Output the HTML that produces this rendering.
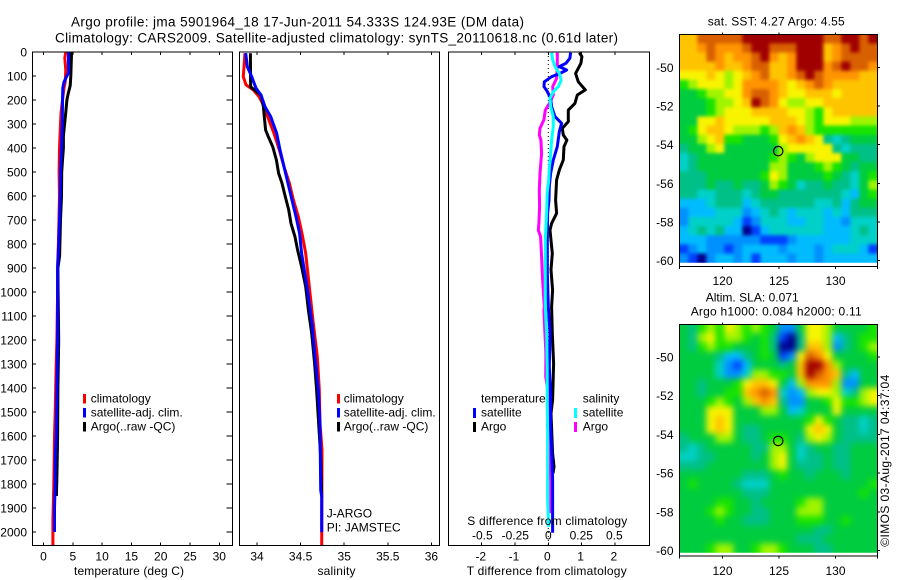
<!DOCTYPE html>
<html lang="en">
<head>
<meta charset="utf-8">
<title>Argo profile 5901964_18</title>
<style>
html,body{margin:0;padding:0;background:#fff;}
svg{display:block;font-family:"Liberation Sans",sans-serif;font-size:12px;fill:#000;}
text{fill:#000;}
</style>
</head>
<body>
<svg id="chart" xmlns="http://www.w3.org/2000/svg" width="900" height="580" viewBox="0 0 900 580">
<defs>
<clipPath id="sstClip"><rect x="679.3" y="34.3" width="198" height="228.4"/></clipPath>
<clipPath id="slaClip"><rect x="679.3" y="324.3" width="198" height="228.4"/></clipPath>
<filter id="blurSst" color-interpolation-filters="sRGB" x="-5%" y="-5%" width="110%" height="110%"><feGaussianBlur stdDeviation="1.9"/></filter>
<filter id="blurSla" color-interpolation-filters="sRGB" x="-5%" y="-5%" width="110%" height="110%"><feGaussianBlur stdDeviation="3.2"/></filter>
</defs>
<rect x="0" y="0" width="900" height="580" fill="#fff"/>
<text x="71" y="26.5" font-size="13.5" textLength="453">Argo profile: jma 5901964_18 17-Jun-2011 54.333S 124.93E (DM data)</text>
<text x="55" y="42.5" font-size="13.5" textLength="563">Climatology: CARS2009. Satellite-adjusted climatology: synTS_20110618.nc (0.61d later)</text>

<g id="panelT"></g>
<g id="panelS"></g>
<g id="panelD"></g>
<g id="mapSst"></g>
<g id="mapSla"></g>

<text x="74" y="575" textLength="110">temperature (deg C)</text>
<text x="317.5" y="575" textLength="38">salinity</text>
<text x="466.7" y="575" textLength="160">T difference from climatology</text>
<text x="467.3" y="525" textLength="160">S difference from climatology</text>

<g>
<rect x="83" y="394" width="3" height="9.5" fill="#f00"/>
<text x="90.7" y="402.7">climatology</text>
<rect x="83" y="408" width="3" height="9.5" fill="#00f"/>
<text x="90.7" y="416.7">satellite-adj. clim.</text>
<rect x="83" y="422" width="3" height="9.5" fill="#000"/>
<text x="90.7" y="430.7">Argo(..raw -QC)</text>
</g>
<g>
<rect x="337" y="394" width="3" height="9.5" fill="#f00"/>
<text x="343.7" y="402.7">climatology</text>
<rect x="337" y="408" width="3" height="9.5" fill="#00f"/>
<text x="343.7" y="416.7">satellite-adj. clim.</text>
<rect x="337" y="422" width="3" height="9.5" fill="#000"/>
<text x="343.7" y="430.7">Argo(..raw -QC)</text>
</g>
<text x="326.7" y="517.3">J-ARGO</text>
<text x="326.7" y="531.7">PI: JAMSTEC</text>

<g>
<text x="481" y="402.7">temperature</text>
<rect x="473" y="408" width="3" height="10" fill="#00f"/>
<text x="481" y="416.7">satellite</text>
<rect x="473" y="422" width="3" height="10" fill="#000"/>
<text x="481" y="430.7">Argo</text>
<text x="582.7" y="402.7">salinity</text>
<rect x="574" y="408" width="3" height="10" fill="#0ff"/>
<text x="582.7" y="416.7">satellite</text>
<rect x="574" y="422" width="3" height="10" fill="#f0f"/>
<text x="582.7" y="430.7">Argo</text>
</g>

<text x="707.7" y="25.6" textLength="137">sat. SST: 4.27 Argo: 4.55</text>
<text x="705.7" y="301.7" textLength="93">Altim. SLA: 0.071</text>
<text x="690.7" y="315.7" textLength="171">Argo h1000: 0.084 h2000: 0.11</text>
<text transform="translate(889,546.7) rotate(-90)" textLength="172">©IMOS 03-Aug-2017 04:37:04</text>
</svg>

<script>
var depthTicks = [0,100,200,300,400,500,600,700,800,900,1000,1100,1200,1300,1400,1500,1600,1700,1800,1900,2000];
var tempTicks = [0,5,10,15,20,25,30];
var salTicks = ['34','34.5','35','35.5','36'];
var tDiffTicks = ['-2','-1','0','1','2'];
var sDiffTicks = ['-0.5','-0.25','0','0.25','0.5'];
var lonTicks = [120,125,130];
var latTicks = [-50,-52,-54,-56,-58,-60];
var floatLon = 124.93;
var floatLat = -54.333;

var tempClimDepth = [0,25,75,125,150,200,250,300,400,500,600,800,900,1000,1200,1300,1500,1600,1800,1950,2055];
var tempClimValue = [3.8,3.64,3.8,3.7,3.5,3.25,3.0,2.9,2.73,2.67,2.73,2.55,2.4,2.4,2.28,2.16,2.0,1.88,1.76,1.6,1.6];
var tempArgoDepth = [0,100,140,175,200,250,300,350,400,450,500,600,700,800,850,900,1000,1200,1400,1600,1750,1850];
var tempArgoValue = [4.8,4.66,4.55,4.2,4.0,3.8,3.6,3.4,3.4,3.25,3.1,3.07,2.9,2.8,2.75,2.45,2.5,2.6,2.45,2.4,2.3,2.2];
var tempSatDepth = [0,50,85,100,125,150,200,300,360,400,500,600,700,800,900,1000,1200,1400,1600,1700,1800,1900,2000];
var tempSatValue = [4.27,4.27,4.3,4.0,3.5,3.3,3.25,3.2,3.13,3.07,2.9,2.85,2.73,2.6,2.4,2.4,2.4,2.28,2.16,2.0,2.0,1.88,1.88];

var salClimDepth = [5,61,103,137,158,186,228,269,339,408,478,547,617,686,756,839,978,1131,1269,1408,1547,1658,2055];
var salClimValue = [33.862,33.851,33.843,33.874,33.958,34.023,34.084,34.122,34.195,34.256,34.31,34.371,34.417,34.474,34.516,34.558,34.6,34.646,34.692,34.715,34.722,34.745,34.742];
var salArgoDepth = [5,145,160,180,228,270,325,353,394,450,505,547,603,658,714,770,825,894,978,1075,1172,1297,1408,1686,1853];
var salArgoValue = [33.924,33.927,33.977,34.046,34.073,34.084,34.099,34.13,34.18,34.222,34.248,34.287,34.325,34.363,34.39,34.436,34.466,34.512,34.558,34.589,34.627,34.661,34.684,34.73,34.742];
var salSatDepth = [5,61,103,151,179,228,269,339,408,478,547,617,686,756,839,978,1131,1269,1408,1547,1825,1853,2001];
var salSatValue = [33.87,33.889,33.939,33.989,34.046,34.092,34.157,34.226,34.264,34.31,34.356,34.401,34.447,34.489,34.512,34.573,34.631,34.665,34.703,34.722,34.73,34.742,34.742];

var diffTArgoDepth = [3,19,47,89,124,158,179,214,242,290,318,346,367,394,450,492,533,617,672,714,742,839,908,992,1061,1172,1297,1450,1506,1672,1728,1756];
var diffTArgoValue = [0.93,1.01,0.98,0.82,0.9,1.11,0.87,0.8,0.6,0.6,0.42,0.45,0.56,0.47,0.45,0.33,0.25,0.22,0.25,0.1,0.05,0.12,0.08,0.13,0.1,0.12,0.16,0.13,0.08,0.13,0.17,0.14];
var diffTSatDepth = [3,26,47,61,75,89,103,124,144,165,193,228,269,297,332,394,450,506,561,617,672,783,922,1061,1172,1311,1436,1561,1644,1783,2003];
var diffTSatValue = [0.67,0.65,0.53,0.33,0.55,0.35,0.1,-0.12,-0.13,-0.03,0.07,0.1,0.2,0.4,0.33,0.27,0.15,0.07,0.03,0.02,-0.02,-0.03,-0.03,0,0.05,0.03,0.07,0.07,0.1,0.13,0.13];
var diffSArgoDepth = [3,61,110,144,179,214,242,283,318,346,367,422,506,575,644,714,742,769,853,950,1061,1075,1117,1256,1353,1464,1547,1714,1783,1922];
var diffSArgoValue = [0.068,0.068,0.063,0.033,0.038,0.008,-0.023,-0.033,-0.063,-0.068,-0.056,-0.051,-0.063,-0.068,-0.066,-0.071,-0.076,-0.058,-0.051,-0.043,-0.03,-0.033,-0.03,-0.018,-0.02,0.013,0.015,0.013,0.018,0.018];
var diffSSatDepth = [3,33,61,89,117,144,165,193,228,269,311,367,422,478,533,589,672,783,922,1061,1172,1311,1450,1589,1728,1867,1978];
var diffSSatValue = [0.025,0.033,0.051,0.083,0.098,0.076,0.038,0.013,0.018,0.038,0.038,0.025,0.018,0.008,0.003,-0.008,-0.013,-0.023,-0.023,-0.023,-0.013,-0.008,-0.008,-0.005,-0.005,-0.005,0.003];

var colorLevels = ['#00008c','#0040ff','#0090ff','#00bcff','#00d0c8','#00c088','#00cc40','#18e400','#a0f400','#f8f400','#ffc400','#ff9400','#d86000','#a00000'];

var sstValues = [
[10,10,12,12,12,12,12,13,13,13,13,13,13,13,13,13,12,12,13,13,12,13],
[10,10,11,12,11,11,11,12,13,13,12,12,12,13,13,13,10,11,12,13,12,12],
[10,10,10,12,11,10,11,11,12,13,11,10,11,13,13,13,10,11,12,12,12,12],
[10,10,10,10,11,10,10,11,12,12,10,10,11,13,13,13,11,12,13,12,12,11],
[9,9,9,10,9,8,9,10,11,12,10,10,11,12,13,12,11,11,11,11,10,10],
[7,8,9,9,9,8,9,11,11,11,11,10,9,10,11,12,11,10,10,10,10,10],
[6,6,7,8,8,9,9,11,12,12,11,10,9,9,10,10,10,9,10,10,10,10],
[6,6,6,7,8,8,9,10,13,12,11,9,8,8,9,9,10,10,10,10,10,10],
[6,6,6,7,8,9,9,9,10,10,10,10,9,9,8,7,9,10,10,10,10,10],
[6,6,9,9,10,9,9,9,9,9,10,10,10,9,8,7,9,9,9,8,8,8],
[6,7,9,10,10,9,8,8,8,7,8,10,11,10,8,7,7,7,7,7,7,7],
[6,6,8,9,10,7,7,6,6,6,7,9,10,11,10,9,5,4,5,6,6,6],
[5,6,6,8,9,6,6,6,6,6,6,8,9,9,9,9,9,5,4,5,5,5],
[4,5,6,6,6,6,6,6,6,6,7,8,7,6,8,9,9,9,6,6,5,5],
[4,5,6,6,6,6,6,6,6,6,8,8,6,6,6,7,8,7,6,5,6,6],
[5,5,5,6,6,6,6,6,6,7,9,8,6,6,6,6,7,6,5,4,6,7],
[5,5,5,6,5,5,6,5,5,6,8,7,6,4,5,5,6,5,5,4,6,8],
[5,5,4,4,5,5,5,4,5,6,6,5,5,5,5,5,5,5,4,3,6,7],
[3,3,3,4,5,5,5,3,4,5,5,5,5,5,5,4,4,5,3,5,6,6],
[2,3,3,3,4,4,4,2,3,4,5,4,3,4,4,4,3,4,3,5,5,5],
[2,4,4,4,4,4,3,1,2,4,4,4,3,3,4,4,3,3,2,4,4,4],
[3,4,5,4,5,3,3,0,1,3,4,4,4,4,4,4,3,3,3,4,5,4],
[3,3,3,2,2,2,2,2,2,1,1,1,2,3,3,3,3,3,3,4,4,4],
[1,2,3,2,2,1,2,3,3,3,3,2,3,3,3,2,3,4,4,4,3,1],
[2,1,0,2,3,3,2,3,1,3,3,3,2,3,3,2,3,3,3,3,3,3]
];

var slaValues = [
[6,5,7,8,7,9,8,7,8,7,6,2,2,6,9,9,8,6,6,6,6,7],
[6,5,8,9,7,8,8,7,6,7,5,1,0,5,9,9,8,3,5,6,7,7],
[6,5,7,8,7,7,6,6,6,7,5,0,0,5,10,10,8,2,5,6,7,8],
[6,6,6,6,5,3,3,5,6,7,6,1,2,9,12,11,9,6,6,6,6,7],
[6,6,6,6,4,2,1,3,6,6,6,5,6,10,13,13,11,8,6,6,6,6],
[6,6,6,6,4,2,2,4,8,8,7,7,6,10,13,12,11,10,5,3,6,6],
[6,6,5,6,6,6,7,9,10,10,9,6,3,8,11,11,11,8,2,2,6,6],
[6,6,5,6,6,7,7,10,11,12,11,4,2,3,8,9,9,8,4,5,8,9],
[6,6,6,7,8,7,6,8,10,11,10,5,2,2,6,6,7,9,7,7,8,9],
[6,6,6,9,9,9,6,6,6,8,8,6,3,4,6,6,6,9,6,6,6,6],
[6,6,6,9,10,9,6,6,6,6,6,6,6,6,7,9,7,6,5,5,4,5],
[6,6,6,9,10,9,6,5,5,6,6,6,6,6,9,10,9,6,5,5,4,5],
[5,6,6,6,8,8,6,5,5,6,7,7,6,5,8,9,8,6,5,5,5,5],
[5,4,5,6,6,6,6,6,5,5,8,8,6,4,5,6,6,5,5,6,6,6],
[4,4,5,5,6,6,6,6,5,6,8,9,6,4,5,5,6,5,5,6,6,6],
[5,5,5,6,6,6,6,6,6,6,8,9,6,5,5,5,6,5,5,6,6,6],
[6,6,6,6,6,6,6,5,5,5,6,7,6,6,5,6,6,6,5,6,6,6],
[6,7,6,6,6,6,5,4,4,4,6,6,6,6,6,6,6,6,6,6,6,7],
[6,6,6,6,6,6,6,5,5,5,6,6,6,6,6,6,6,6,6,6,7,6],
[6,6,6,6,7,7,6,6,5,6,6,6,6,7,8,8,6,6,6,6,6,6],
[6,6,6,7,8,7,6,6,5,5,6,6,6,8,8,8,6,6,6,6,6,6],
[6,6,6,6,7,6,6,5,5,5,6,6,6,7,7,7,6,6,7,6,6,6],
[6,6,6,6,6,6,6,6,6,6,6,6,6,6,6,5,5,6,6,6,6,6],
[6,6,6,6,6,6,6,6,6,6,6,6,6,5,5,5,6,6,6,6,6,6],
[6,6,6,7,8,8,6,6,7,8,8,7,6,6,6,5,5,6,6,6,6,6]
];

var NS = 'http://www.w3.org/2000/svg';
function depthY(d){ return 52 + d * 0.24; }
function tempX(v){ return 43.5 + v * 5.86; }
function salX(v){ return 257 + (v - 34) * 87.2; }
function diffTX(v){ return 548.3 + v * 33.3; }
function diffSX(v){ return 548.3 + v * 132; }
function lonX(v){ return 779 + (v - 125) * 11.3; }
function sstY(v){ return 67.3 + (-50 - v) * 19.34; }
function slaY(v){ return 357 + (-50 - v) * 19.37; }

function make(parent, tag){
  var el = document.createElementNS(NS, tag);
  parent.appendChild(el);
  return el;
}
function setAttrs(el, attrs){
  for (var k in attrs) { el.setAttribute(k, attrs[k]); }
}
function drawLine(parent, x1, y1, x2, y2){
  var el = make(parent, 'line');
  setAttrs(el, {x1:x1, y1:y1, x2:x2, y2:y2, stroke:'#000', 'stroke-width':1, 'shape-rendering':'crispEdges'});
  
  
  return el;
}
function drawLabel(parent, x, y, str, anchor){
  var el = make(parent, 'text');
  setAttrs(el, {x:x, y:y, 'text-anchor':anchor});
  el.textContent = str;
  
  
  return el;
}
function drawFrame(parent, x0, x1, y0, y1){
  var el = make(parent, 'rect');
  setAttrs(el, {x:x0, y:y0, width:x1 - x0, height:y1 - y0, fill:'none', stroke:'#000', 'stroke-width':1, 'shape-rendering':'crispEdges'});
  
  
}
function drawSeries(parent, name, depths, values, xFn, color){
  var pts = [];
  for (var i = 0; i < depths.length; i++) {
    pts.push(xFn(values[i]).toFixed(1) + ',' + depthY(depths[i]).toFixed(1));
  }
  var el = make(parent, 'polyline');
  setAttrs(el, {points:pts.join(' '), fill:'none', stroke:color, 'stroke-width':3, 'stroke-linejoin':'round'});
  
  
}

var top0 = 52, bot0 = 545.3;

/* temperature panel */
var pT = document.getElementById('panelT');
tempTicks.forEach(function(t){
  var x = tempX(t);
  drawLine(pT, x, top0, x, top0 + 3);
  drawLine(pT, x, bot0, x, bot0 - 3);
  drawLabel(pT, x, 560.5, String(t), 'middle');
});
depthTicks.forEach(function(d){
  var y = depthY(d);
  drawLine(pT, 32.5, y, 36, y);
  drawLine(pT, 232, y, 226.5, y);
  drawLabel(pT, 27, y + 4.5, String(d), 'end');
});
drawSeries(pT, 'temperature-climatology-line', tempClimDepth, tempClimValue, tempX, '#f00');
drawSeries(pT, 'temperature-argo-line', tempArgoDepth, tempArgoValue, tempX, '#000');
drawSeries(pT, 'temperature-satellite-line', tempSatDepth, tempSatValue, tempX, '#00f');
drawFrame(pT, 32.5, 232.3, top0, bot0);

/* salinity panel */
var pS = document.getElementById('panelS');
salTicks.forEach(function(t){
  var x = salX(parseFloat(t));
  drawLine(pS, x, top0, x, top0 + 3);
  drawLine(pS, x, bot0, x, bot0 - 3);
  drawLabel(pS, x, 560.5, t, 'middle');
});
drawSeries(pS, 'salinity-climatology-line', salClimDepth, salClimValue, salX, '#f00');
drawSeries(pS, 'salinity-argo-line', salArgoDepth, salArgoValue, salX, '#000');
drawSeries(pS, 'salinity-satellite-line', salSatDepth, salSatValue, salX, '#00f');
drawFrame(pS, 239.5, 439.5, top0, bot0);

/* difference panel */
var pD = document.getElementById('panelD');
var zeroLine = make(pD, 'line');
setAttrs(zeroLine, {x1:diffTX(0), y1:top0, x2:diffTX(0), y2:bot0, stroke:'#000', 'stroke-width':1, 'stroke-dasharray':'1 3'});


tDiffTicks.forEach(function(t){
  var x = diffTX(parseFloat(t));
  drawLine(pD, x, top0, x, top0 + 3);
  drawLine(pD, x, bot0, x, bot0 - 3);
  drawLabel(pD, x - 1, 560.5, t, 'middle');
});
sDiffTicks.forEach(function(t){
  drawLabel(pD, diffSX(parseFloat(t)), 539.3, t, 'middle');
});
drawSeries(pD, 't-difference-argo-line', diffTArgoDepth, diffTArgoValue, diffTX, '#000');
drawSeries(pD, 's-difference-argo-line', diffSArgoDepth, diffSArgoValue, diffSX, '#f0f');
drawSeries(pD, 't-difference-satellite-line', diffTSatDepth, diffTSatValue, diffTX, '#00f');
drawSeries(pD, 's-difference-satellite-line', diffSSatDepth, diffSSatValue, diffSX, '#0ff');
drawFrame(pD, 448.5, 649.7, top0, bot0);

/* maps */
var lonMin = 116.18, lonStep = 17.52 / 22;
var latMax = -48.29, latStep = 11.81 / 25;

function drawMap(parent, grid, yFn, clipId, filterId, frameTop, frameBottom, labelBase, cellName){
  var clipGroup = make(parent, 'g');
  clipGroup.setAttribute('clip-path', 'url(#' + clipId + ')');
  
  
  var cells = make(clipGroup, 'g');
  cells.setAttribute('filter', 'url(#' + filterId + ')');
  for (var r = 0; r < grid.length; r++) {
    for (var c = 0; c < grid[r].length; c++) {
      var x0 = lonX(lonMin + c * lonStep);
      var x1 = lonX(lonMin + (c + 1) * lonStep);
      var y0 = yFn(latMax - r * latStep);
      var y1 = yFn(latMax - (r + 1) * latStep);
      if (c === 0) { x0 -= 12; }
      if (c === grid[r].length - 1) { x1 += 12; }
      if (r === 0) { y0 -= 12; }
      if (r === grid.length - 1) { y1 += 12; }
      var cell = make(cells, 'rect');
      setAttrs(cell, {x:x0.toFixed(2), y:y0.toFixed(2), width:(x1 - x0 + 0.5).toFixed(2), height:(y1 - y0 + 0.5).toFixed(2), fill:colorLevels[grid[r][c]]});
      
      
    }
  }
  drawFrame(parent, 679.3, 877.3, frameTop, frameBottom);
  lonTicks.forEach(function(t){
    var x = lonX(t);
    drawLine(parent, x, frameBottom, x, frameBottom + 2.5);
    drawLine(parent, x, frameTop, x, frameTop - 2);
    drawLabel(parent, x, labelBase, String(t), 'middle');
  });
  latTicks.forEach(function(t){
    var y = yFn(t);
    drawLine(parent, 877.3, y, 880, y);
    drawLabel(parent, 673.5, y + 4.5, String(t), 'end');
  });
  drawLine(parent, 679.3, frameBottom, 679.3, frameBottom + 2.5);
  drawLine(parent, 877.3, frameBottom, 877.3, frameBottom + 2.5);
  var marker = make(parent, 'circle');
  setAttrs(marker, {cx:lonX(floatLon), cy:yFn(floatLat), r:4.7, fill:'none', stroke:'#000', 'stroke-width':1.2});
  
  
}
drawMap(document.getElementById('mapSst'), sstValues, sstY, 'sstClip', 'blurSst', 34.3, 266.7, 285, 'sst-cell');
drawMap(document.getElementById('mapSla'), slaValues, slaY, 'slaClip', 'blurSla', 324.3, 556, 575, 'sla-cell');
</script>
</body>
</html>
